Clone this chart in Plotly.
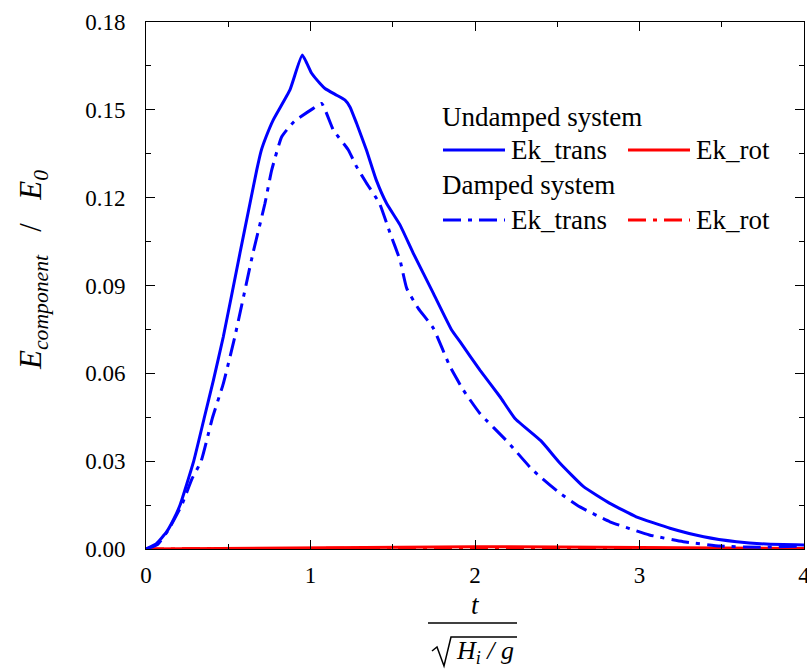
import plotly.graph_objects as go

# ---- data ----
t_und = [0, 0.065, 0.126, 0.166, 0.207, 0.29, 0.355, 0.41, 0.47, 0.571, 0.632, 0.673, 0.70, 0.73,
         0.773, 0.875, 0.95, 1.007, 1.058, 1.088, 1.159, 1.21, 1.24, 1.28, 1.34, 1.40, 1.463,
         1.544, 1.625, 1.747, 1.858, 1.909, 2.03, 2.152, 2.243, 2.40, 2.517, 2.66, 2.82, 2.98,
         3.185, 3.39, 3.59, 3.77, 4.0]
ek_trans_und = [0, 0.0019, 0.0059, 0.0099, 0.015, 0.030, 0.045, 0.0577, 0.0725, 0.101, 0.118, 0.1294,
                0.136, 0.1408, 0.1465, 0.1568, 0.1687, 0.1625, 0.159, 0.1573, 0.155, 0.1533, 0.151,
                0.1454, 0.1363, 0.126, 0.118, 0.1107, 0.101, 0.0873, 0.0748, 0.0708, 0.0611, 0.052,
                0.0446, 0.037, 0.0293, 0.0213, 0.0156, 0.011, 0.0071, 0.0042, 0.0025, 0.0017, 0.0014]

t_dmp = [0, 0.07, 0.136, 0.217, 0.28, 0.335, 0.405, 0.47, 0.54, 0.65, 0.723, 0.764, 0.825, 0.90,
         1.017, 1.068, 1.139, 1.23, 1.28, 1.34, 1.42, 1.483, 1.544, 1.585, 1.655, 1.747, 1.848,
         1.929, 2.03, 2.2, 2.35, 2.517, 2.638, 2.82, 3.06, 3.266, 3.49, 3.73, 4.0]
ek_trans_dmp = [0, 0.0015, 0.0065, 0.015, 0.024, 0.030, 0.045, 0.0565, 0.0725, 0.101, 0.118, 0.1294,
                0.1408, 0.146, 0.1505, 0.1522, 0.1431, 0.1363, 0.1306, 0.125, 0.118, 0.108, 0.0987,
                0.089, 0.0822, 0.0754, 0.0623, 0.0543, 0.0463, 0.0365, 0.027, 0.019, 0.0144, 0.0093,
                0.0048, 0.0025, 0.001, 0.0006, 0.001]

t_rot = [0, 0.5, 1, 1.5, 2, 2.5, 3, 3.5, 4]
ek_rot_und = [0, 0.0002, 0.0005, 0.0007, 0.0008, 0.0007, 0.0005, 0.0003, 0.0002]
ek_rot_dmp = [0, 0.0001, 0.0003, 0.0004, 0.0004, 0.0003, 0.0002, 0.0001, 0.0001]

x_ticks = [0, 1, 2, 3, 4]
y_ticks = [0.00, 0.03, 0.06, 0.09, 0.12, 0.15, 0.18]

# ---- layout geometry ----
W, H = 807, 669
L, R, T, B = 146, 3, 22, 120
PW, PH = W - L - R, H - T - B
FONT = "Liberation Serif, Times New Roman, Times, serif"
DASHDOT = "18px,7px,4px,7px"

def px(x):
    return (x - L) / PW

def py(y):
    return (H - B - y) / PH

fig = go.Figure()
fig.add_trace(go.Scatter(x=t_rot, y=ek_rot_dmp, mode="lines", name="Ek_rot (damped)",
                         line=dict(color="#ff0000", width=3, dash=DASHDOT), showlegend=False))
fig.add_trace(go.Scatter(x=t_rot, y=ek_rot_und, mode="lines", name="Ek_rot (undamped)",
                         line=dict(color="#ff0000", width=3), showlegend=False))
fig.add_trace(go.Scatter(x=t_dmp, y=ek_trans_dmp, mode="lines", name="Ek_trans (damped)",
                         line=dict(color="#0000ff", width=3, dash=DASHDOT, shape="spline", smoothing=0.4),
                         showlegend=False))
fig.add_trace(go.Scatter(x=t_und, y=ek_trans_und, mode="lines", name="Ek_trans (undamped)",
                         line=dict(color="#0000ff", width=3, shape="spline", smoothing=0.4),
                         showlegend=False))

axis_common = dict(showline=True, linecolor="black", linewidth=1, mirror="ticks",
                   ticks="inside", ticklen=9, tickwidth=1, tickcolor="black",
                   showgrid=False, zeroline=False, ticklabeloverflow="allow",
                   tickfont=dict(family=FONT, size=23, color="black"))

fig.update_xaxes(range=[0, 4], tickvals=x_ticks, ticktext=[str(v) for v in x_ticks],
                 minor=dict(ticks="inside", dtick=0.5, ticklen=5, tickcolor="black", showgrid=False),
                 ticklabelstandoff=5, **axis_common)
fig.update_yaxes(range=[0, 0.18], tickvals=y_ticks, ticktext=[f"{v:.2f}" for v in y_ticks],
                 minor=dict(ticks="inside", dtick=0.015, ticklen=5, tickcolor="black", showgrid=False),
                 ticklabelstandoff=15, **axis_common)

shapes = []
annotations = []

# legend (manual)
def leg_line(x0, x1, y, color, dash):
    shapes.append(dict(type="line", xref="paper", yref="paper", x0=px(x0), x1=px(x1),
                       y0=py(y), y1=py(y), line=dict(color=color, width=3, dash=dash)))

def text(x, y, s, size, xanchor="left", angle=0):
    annotations.append(dict(x=px(x), y=py(y), xref="paper", yref="paper", text=s, showarrow=False,
                            xanchor=xanchor, yanchor="middle", textangle=angle,
                            font=dict(family=FONT, size=size, color="black")))

LS = 27
text(440, 117, "Undamped system", LS)
leg_line(443, 505, 150, "#0000ff", "solid")
text(509, 150, "Ek_trans", LS)
leg_line(628, 690, 150, "#ff0000", "solid")
text(694, 150, "Ek_rot", LS)
text(440, 185, "Damped system", LS)
leg_line(443, 505, 220, "#0000ff", DASHDOT)
text(509, 220, "Ek_trans", LS)
leg_line(628, 690, 220, "#ff0000", DASHDOT)
text(694, 220, "Ek_rot", LS)

# y-axis title
text(33, 270, "<i>E</i><sub><i>component</i></sub>   /   <i>E</i><sub><i>0</i></sub>", 31,
     xanchor="center", angle=-90)

# x-axis title: t / sqrt(H_i / g)
text(475, 605, "<i>t</i>", 27, xanchor="center")
shapes.append(dict(type="line", xref="paper", yref="paper", x0=px(428), x1=px(517),
                   y0=py(623), y1=py(623), line=dict(color="black", width=1.5)))
path = "M {},{} L {},{} L {},{} L {},{} L {},{}".format(
    px(432), py(651), px(437), py(647), px(444), py(666), px(451), py(637), px(517), py(637))
shapes.append(dict(type="path", xref="paper", yref="paper", path=path,
                   line=dict(color="black", width=1.5)))
text(485, 652, "<i>H</i><sub><i>i</i></sub><i> / g</i>", 26, xanchor="center")

fig.update_layout(width=W, height=H, margin=dict(l=L, r=R, t=T, b=B, autoexpand=False),
                  paper_bgcolor="white", plot_bgcolor="white",
                  font=dict(family=FONT, color="black"),
                  shapes=shapes, annotations=annotations, showlegend=False)

fig.write_html("out.html", config={"displayModeBar": False},
               post_script="document.body.style.margin='0';document.body.style.padding='0';")
